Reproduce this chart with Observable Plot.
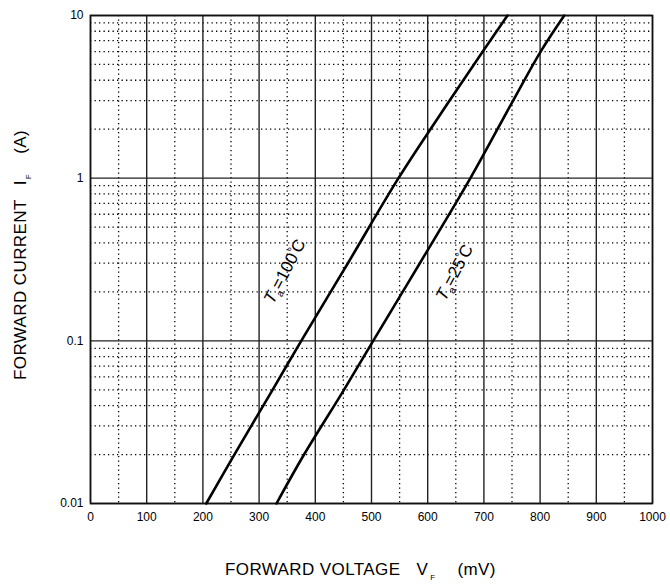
<!DOCTYPE html>
<html><head><meta charset="utf-8">
<script src="https://cdn.jsdelivr.net/npm/d3@7"></script>
<script src="https://cdn.jsdelivr.net/npm/@observablehq/plot@0.6"></script>
<style>body{margin:0;background:#fff} svg{font-family:"Liberation Sans",Arial,sans-serif}</style>
</head><body><div id="chart"></div>
<script>
// Forward current (A) sampled along the curves
const current    = [0.01, 0.02, 0.05, 0.1, 0.3, 1, 3, 6, 10];
// Forward voltage (mV) at Ta = 100°C
const voltage100 = [206, 256, 324, 375, 458, 548, 639, 698, 742];
// Forward voltage (mV) at Ta = 25°C
const voltage25  = [331, 380, 451, 503, 586, 676, 752, 801, 843];

const xTicks = [0, 100, 200, 300, 400, 500, 600, 700, 800, 900, 1000];
const xTickLabels = ["0", "100", "200", "300", "400", "500", "600", "700", "800", "900", "1000"];
const xMinor = [50, 150, 250, 350, 450, 550, 650, 750, 850, 950];
const yTicks = [0.01, 0.1, 1, 10];
const yTickLabels = ["0.01", "0.1", "1", "10"];
const yMinor = [0.01, 0.1, 1].flatMap(d => [2,3,4,5,6,7,8,9].map(k => +(k * d).toPrecision(3)));

const curveLabels = [
  {V: 349, I: 0.263, temp: "100"},
  {V: 651, I: 0.259, temp: "25"}
];

const series = [
  ...current.map((c, k) => ({I: c, V: voltage100[k], s: "100"})),
  ...current.map((c, k) => ({I: c, V: voltage25[k], s: "25"}))
];

const plot = Plot.plot({
  width: 670, height: 587,
  marginLeft: 90, marginRight: 18, marginTop: 15, marginBottom: 84,
  style: {fontFamily: '"Liberation Sans", Arial, sans-serif', fontSize: "12px", color: "#000", background: "#fff"},
  x: {domain: [0, 1000]},
  y: {type: "log", domain: [0.01, 10]},
  marks: [
    Plot.ruleX(xMinor, {stroke: "#000", strokeWidth: 1.3, strokeDasharray: "1.3,3.2"}),
    Plot.ruleY(yMinor, {stroke: "#000", strokeWidth: 1.3, strokeDasharray: "1.3,3.2"}),
    Plot.ruleX(xTicks, {stroke: "#222", strokeWidth: 1.4}),
    Plot.ruleY(yTicks, {stroke: "#222", strokeWidth: 1.4}),
    Plot.frame({stroke: "#111", strokeWidth: 1.6}),
    Plot.line(series, {x: "V", y: "I", z: "s", stroke: "#000", strokeWidth: 2.6, curve: "catmull-rom"}),
    Plot.axisX({ticks: xTicks, tickSize: 0, tickPadding: 9, label: null, tickFormat: d => xTickLabels[xTicks.indexOf(d)]}),
    Plot.axisY({ticks: yTicks, tickSize: 0, tickPadding: 7, label: null, tickFormat: d => yTickLabels[yTicks.indexOf(d)]})
  ]
});

document.getElementById("chart").appendChild(plot);

const svg = d3.select(plot);
const sx = plot.scale("x"), sy = plot.scale("y");

// curve labels
curveLabels.forEach(d => {
  const t = svg.append("text")
    .attr("transform", `translate(${sx.apply(d.V)},${sy.apply(d.I)}) rotate(-62)`)
    .attr("text-anchor", "middle")
    .attr("dominant-baseline", "middle")
    .attr("font-size", 17);
  t.append("tspan").attr("font-style", "italic").text("T");
  t.append("tspan").attr("font-size", 10).attr("dy", 5).text("a");
  t.append("tspan").attr("dy", -5).text("=" + d.temp);
  t.append("tspan").attr("font-size", 12).attr("dy", -4).text("°");
  t.append("tspan").attr("dy", 4).attr("dx", -1.5).text("C");
});

// x axis title
const xt = svg.append("text").attr("x", 225).attr("y", 575).attr("text-anchor", "start").attr("font-size", 17).attr("letter-spacing", 0.4);
xt.append("tspan").text("FORWARD VOLTAGE");
xt.append("tspan").attr("dx", 16).text("V");
xt.append("tspan").attr("font-size", 8).attr("dy", 5).attr("dx", 2).text("F");
xt.append("tspan").attr("dy", -5).attr("dx", 22).text("(mV)");

// y axis title
const yt = svg.append("text").attr("transform", "translate(26,380) rotate(-90)").attr("text-anchor", "start").attr("font-size", 17).attr("letter-spacing", 0.4);
yt.append("tspan").text("FORWARD CURRENT");
yt.append("tspan").attr("dx", 14).text("I");
yt.append("tspan").attr("font-size", 8).attr("dy", 5).attr("dx", 1).text("F");
yt.append("tspan").attr("dy", -5).attr("dx", 20).text("(A)");
</script>
</body></html>
